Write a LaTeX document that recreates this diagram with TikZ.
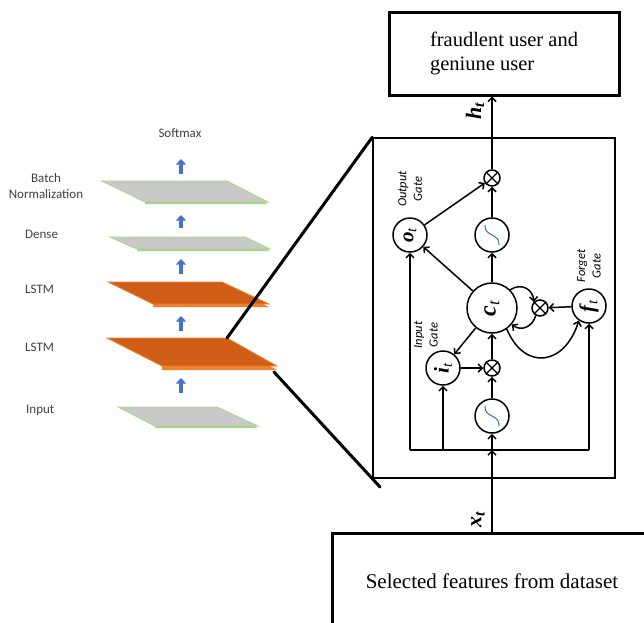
\documentclass[tikz,border=0pt]{standalone}
\usepackage{fontspec}
\setmainfont{Liberation Serif}
\newfontfamily\carl{Carlito}
\usepackage{graphicx}
\usetikzlibrary{arrows.meta,calc}
\definecolor{arrowblue}{HTML}{4472C4}
\definecolor{orangeface}{HTML}{CF5E16}
\definecolor{orangeedge}{HTML}{F0812F}
\definecolor{grayface}{HTML}{C9C9C9}
\definecolor{greenedge}{HTML}{A6D48A}
\definecolor{labgray}{HTML}{404040}
\definecolor{wave}{HTML}{3A6FB5}
\newcommand{\mkplate}[7]{%
  \fill[#6] (#1) -- (#2) -- ($(#2)+(0,#7)$) -- ($(#3)+(0,#7)$) -- ($(#4)+(0,#7)$) -- (#4) -- cycle;
  \filldraw[fill=#5, draw=#6, line width=0.8pt] (#1) -- (#2) -- (#3) -- (#4) -- cycle;}
\newcommand{\mkwave}[1]{%
  \draw[wave, line width=1pt] ($(#1)+(-7,-10)$) .. controls ($(#1)+(-8,2)$) and ($(#1)+(8,-2)$) .. ($(#1)+(7,10)$);}
\begin{document}
\begin{tikzpicture}[x=1pt,y=-1pt,
  unit/.style={circle, draw, line width=1.5pt, minimum size=34pt, inner sep=0pt, fill=white},
  bigunit/.style={unit, minimum size=50pt},
  mult/.style={circle, draw, line width=1.5pt, minimum size=16pt, inner sep=0pt, fill=white},
  conn/.style={line width=1.5pt, -{Straight Barb[length=4pt,width=8pt]}},
  plain/.style={line width=1.5pt},
  layerlab/.style={font=\carl\fontsize{13}{15.5}\selectfont, text=labgray, inner sep=0pt, align=center},
  gatelab/.style={font=\carl\itshape\fontsize{12.5}{15.5}\selectfont, rotate=90, align=center, inner sep=0pt},
  symlab/.style={font=\bfseries\itshape\fontsize{22}{22}\selectfont, inner sep=0pt},
  blockarrow/.style={line width=3.4pt, arrowblue, -{Triangle[length=5.5pt,width=10pt]}},
  zoomline/.style={line width=3pt, line cap=round}
]
\useasboundingbox (0,0) rectangle (644,622);

% ---------- left: layer stack ----------
\mkplate{102,181}{227,181}{268,202}{145,202}{grayface}{greenedge}{2}
\mkplate{110,237}{245,237}{270,249}{137,249}{grayface}{greenedge}{2}
\mkplate{108,282}{222,282}{269,304}{153,304}{orangeface}{orangeedge}{3}
\mkplate{107,338}{227,338}{277,366}{162,366}{orangeface}{orangeedge}{4}
\mkplate{118,407}{217,407}{258,426}{155,426}{grayface}{greenedge}{2}

\node[layerlab] (lsoft) at (180,133) {Softmax};
\node[layerlab] (lbn) at (46,186) {Batch\\Normalization};
\node[layerlab, anchor=west] (ldense) at (25,234) {Dense};
\node[layerlab, anchor=west] (llstm2) at (25,289) {LSTM};
\node[layerlab, anchor=west] (llstm1) at (25,347) {LSTM};
\node[layerlab, anchor=west] (linput) at (26,410) {Input};

\coordinate (a1s) at (181,174); \coordinate (a1e) at (181,159);
\coordinate (a2s) at (181,228); \coordinate (a2e) at (181,215);
\coordinate (a3s) at (181,274); \coordinate (a3e) at (181,259);
\coordinate (a4s) at (181,331); \coordinate (a4e) at (181,316);
\coordinate (a5s) at (181,393); \coordinate (a5e) at (181,378);
\draw[blockarrow] (a1s) -- (a1e);
\draw[blockarrow] (a2s) -- (a2e);
\draw[blockarrow] (a3s) -- (a3e);
\draw[blockarrow] (a4s) -- (a4e);
\draw[blockarrow] (a5s) -- (a5e);

% ---------- cell box ----------
\node[draw, line width=1.5pt, minimum width=242pt, minimum height=340pt, inner sep=0pt] (cellbox) at (494,308) {};

\coordinate (lstmTR) at (227,338);
\coordinate (lstmBR) at (274,372);
\coordinate (zb) at (380,487);
\draw[zoomline] (lstmTR) -- (cellbox.north west);
\draw[zoomline] (lstmBR) -- (zb);

% ---------- output / input boxes ----------
\node[draw, line width=3pt, minimum width=230pt, minimum height=83pt, inner sep=0pt, align=left,
      font=\fontsize{20.5}{24}\selectfont] (out) at (504,53.5) {fraudlent user and\\geniune user};
\node[draw, line width=3pt, minimum width=320pt, minimum height=97pt, inner sep=0pt,
      font=\fontsize{21}{25}\selectfont] (sel) at (492,581.5) {Selected features from dataset};

% ---------- LSTM cell internals ----------
\node[mult] (mtop) at (492,178) {};
\node[unit] (tanhT) at (492,235) {};
\node[unit] (o) at (410,235) {\rotatebox{90}{\fontsize{21}{21}\selectfont\textbf{\textit{o}}\textsubscript{\textit{t}}}};
\node[bigunit] (c) at (492,308) {\rotatebox{90}{\fontsize{24}{24}\selectfont\textbf{\textit{c}}\textsubscript{\textit{t}}}};
\node[mult] (mf) at (540,308) {};
\node[unit] (f) at (589,306) {\rotatebox{90}{\fontsize{21}{21}\selectfont\textbf{\textit{f}}\textsubscript{\textit{t}}}};
\node[unit] (i) at (443,368) {\rotatebox{90}{\fontsize{21}{21}\selectfont\textbf{\textit{i}}\textsubscript{\textit{t}}}};
\node[mult] (mi) at (492,368) {};
\node[unit] (tanhB) at (492,416) {};

\foreach \m in {mtop,mf,mi}{
  \draw[line width=1.2pt] (\m.45) -- (\m.225) (\m.135) -- (\m.-45);
}
\mkwave{tanhT}
\mkwave{tanhB}

\node[gatelab] (lo) at (410,189) {Output\\Gate};
\node[gatelab] (li) at (426,335) {Input\\Gate};
\node[gatelab] (lf) at (589,266) {Forget\\Gate};

\coordinate (busO) at (410,450);
\coordinate (busI) at (443,450);
\coordinate (busX) at (492,450);
\coordinate (busF) at (589,450);
\draw[plain, line join=miter] (busO) -- (busF);
\draw[conn] (busO) -- (o);
\draw[conn] (busI) -- (i);
\draw[conn] (busF) -- (f);
\draw[conn] (busX) -- (tanhB);
\draw[conn] (sel.north -| busX) -- (busX);

\draw[conn] (tanhB) -- (mi);
\draw[conn] (mi) -- (c);
\draw[conn] (i) -- (mi);
\draw[conn] (c) -- (i);
\draw[conn] (c) -- (o);
\draw[conn] (c) -- (tanhT);
\draw[conn] (tanhT) -- (mtop);
\draw[conn] (o) -- (mtop);
\draw[conn] (f) -- (mf);
\draw[conn] (c.45) .. controls (522,282) and (533,290) .. (mf.135);
\draw[conn] (mf.-120) .. controls (533,326) and (522,332) .. (c.-40);
\draw[conn] (c.-55) .. controls (525,372) and (565,365) .. (f.-125);
\draw[conn] (mtop) -- (out.south -| mtop);

\node[symlab, rotate=90] (ht) at (475,111) {h\textsubscript{t}};
\node[symlab, rotate=90] (xt) at (478,520) {x\textsubscript{t}};
\end{tikzpicture}
\end{document}
